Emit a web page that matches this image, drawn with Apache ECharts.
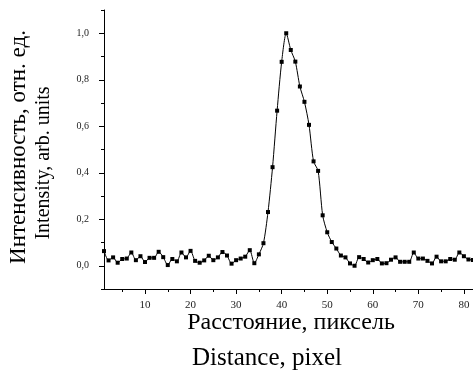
<!DOCTYPE html>
<html><head><meta charset="utf-8">
<script src="https://cdn.jsdelivr.net/npm/echarts@6/dist/echarts.min.js"></script>
<style>html,body{margin:0;padding:0;background:#fff}#c{width:473px;height:383px}</style>
</head><body><div id="c"></div>
<script>
var xValues = [1,2,3,4,5,6,7,8,9,10,11,12,13,14,15,16,17,18,19,20,21,22,23,24,25,26,27,28,29,30,31,32,33,34,35,36,37,38,39,40,41,42,43,44,45,46,47,48,49,50,51,52,53,54,55,56,57,58,59,60,61,62,63,64,65,66,67,68,69,70,71,72,73,74,75,76,77,78,79,80,81,82];
var intensity = [0.063,0.023,0.036,0.013,0.029,0.031,0.057,0.024,0.041,0.016,0.034,0.034,0.060,0.037,0.003,0.029,0.019,0.057,0.036,0.064,0.021,0.013,0.023,0.043,0.024,0.036,0.059,0.044,0.009,0.024,0.031,0.039,0.067,0.011,0.049,0.097,0.231,0.424,0.667,0.877,1.000,0.928,0.878,0.771,0.705,0.606,0.449,0.408,0.217,0.144,0.102,0.074,0.044,0.036,0.010,0.000,0.037,0.029,0.014,0.024,0.029,0.010,0.011,0.026,0.036,0.017,0.017,0.017,0.057,0.031,0.031,0.021,0.010,0.039,0.019,0.019,0.029,0.026,0.057,0.041,0.027,0.025];
var xMajorTicks = [10,20,30,40,50,60,70,80];
var xMinorTicks = [5,15,25,35,45,55,65,75];
var yMajorTicks = [0,0.2,0.4,0.6,0.8,1.0];
var yMinorTicks = [-0.1,0.1,0.3,0.5,0.7,0.9,1.1];
var xTitle = 'Расстояние, пиксель';
var xTitle2 = 'Distance, pixel';
var yTitle = 'Интенсивность, отн. ед.';
var yTitle2 = 'Intensity, arb. units';

var font = 'Liberation Serif';
var chart = echarts.init(document.getElementById('c'));
var common = {min: 1, max: 82, type: 'value'};
chart.setOption({
  animation: false,
  grid: {left: 104, right: 0, top: 10, bottom: 94},
  xAxis: [
    Object.assign({}, common, {
      axisLine: {onZero: false, lineStyle: {color: '#000', width: 1}},
      axisTick: {customValues: xMajorTicks, length: 5, lineStyle: {color: '#000'}},
      axisLabel: {customValues: xMajorTicks, color: '#222', fontFamily: font, fontSize: 11, margin: 11},
      splitLine: {show: false}
    }),
    Object.assign({}, common, {
      position: 'bottom',
      axisLine: {show: false, onZero: false},
      axisTick: {customValues: xMinorTicks, length: 3, lineStyle: {color: '#000'}},
      axisLabel: {show: false},
      splitLine: {show: false}
    })
  ],
  yAxis: [
    {
      type: 'value', min: -0.1, max: 1.1,
      axisLine: {show: true, onZero: false, lineStyle: {color: '#000', width: 1}},
      axisTick: {show: true, customValues: yMajorTicks, length: 5, lineStyle: {color: '#000'}},
      axisLabel: {customValues: yMajorTicks, color: '#222', fontFamily: font, fontSize: 10, margin: 15,
        formatter: function (v) { return v.toFixed(1).replace('.', ','); }},
      splitLine: {show: false}
    },
    {
      type: 'value', min: -0.1, max: 1.1, position: 'left',
      axisLine: {show: false, onZero: false},
      axisTick: {show: true, customValues: yMinorTicks, length: 3, lineStyle: {color: '#000'}},
      axisLabel: {show: false},
      splitLine: {show: false}
    }
  ],
  series: [{
    type: 'line',
    data: xValues.map(function (x, i) { return [x, intensity[i]]; }),
    smooth: 0.25,
    symbol: 'rect',
    symbolSize: 4,
    itemStyle: {color: '#000'},
    lineStyle: {color: '#000', width: 1}
  }],
  graphic: [
    {type: 'text', x: 291, y: 323, style: {text: xTitle, fontFamily: font, fontSize: 24, fill: '#000', align: 'center', verticalAlign: 'middle'}},
    {type: 'text', x: 267, y: 358, style: {text: xTitle2, fontFamily: font, fontSize: 25, fill: '#000', align: 'center', verticalAlign: 'middle'}},
    {type: 'text', x: 19, y: 147, rotation: Math.PI / 2, style: {text: yTitle, fontFamily: font, fontSize: 23, fill: '#000', align: 'center', verticalAlign: 'middle'}},
    {type: 'text', x: 44, y: 163, rotation: Math.PI / 2, style: {text: yTitle2, fontFamily: font, fontSize: 20, fill: '#000', align: 'center', verticalAlign: 'middle'}}
  ]
});
</script>
</body></html>
